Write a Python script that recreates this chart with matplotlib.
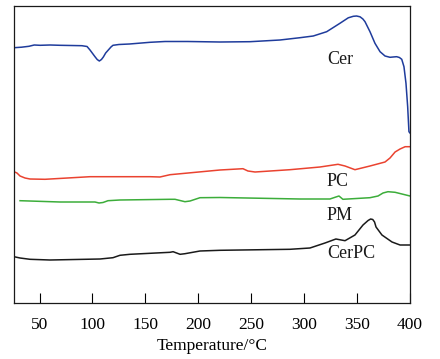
import matplotlib
matplotlib.use("Agg")
import matplotlib.pyplot as plt
import numpy as np

plt.rcParams['font.family'] = ['Liberation Serif', 'DejaVu Serif']
plt.rcParams['mathtext.fontset'] = 'stix'

# Temperature (°C) and heat-flow signal (arbitrary units)
cer_T = [26, 33, 40, 45, 50.5, 60, 69.4, 80, 90, 94.9, 97.7, 100.5, 102.4, 104.5, 106.5, 108.5,
         110.3, 112.5, 115, 117.5, 119.4, 125, 135, 154.4,
         168.6, 190, 220.5, 248.8, 277.2, 296.1, 308.6, 321.3, 333.8, 341.7, 346.4, 349.5, 352.8,
         355.5, 357.5, 362.2, 366.9, 371.7, 376.4, 381.1, 384, 387.4, 390, 392.2, 394.3, 396.2,
         397.8, 399.0, 400]
cer_py = [47.7, 47.2, 46.3, 45, 45.3, 45, 45.3, 45.5, 45.7, 46.5, 50, 54, 56.7, 59.5, 61, 59.5,
          57, 53, 50, 47, 45.3, 44.5, 44, 42.3,
          41.5, 41.5, 42, 41.7, 40, 37.7, 36, 31.7, 23.3, 17.8, 16.3, 16, 16.8,
          19, 21.7, 31.7, 43.3, 51.7, 56, 57.3, 57, 56.7, 57.5, 59.3, 66.7, 83.3,
          106.7, 131.7, 133]

pc_T = [25.9, 28.7, 31.6, 36.3, 41, 55.2, 97.7, 154.4, 163.8, 173.3, 220.5, 242.2, 246.9,
        253.6, 286.6, 315, 332, 338.6, 348, 362.2, 376.4, 381.1, 385.9, 390.6, 395.4, 400]
pc_py = [171.7, 173, 176, 178, 179, 179.3, 176.7, 176.7, 177, 174.7, 170, 168.7, 171,
         172, 169.7, 167, 164.3, 166, 169.7, 166, 162, 158, 152, 149, 146.7, 146.7]

pm_T = [31.6, 69.4, 102.4, 106.2, 110, 114.7, 126, 173.3, 178, 187.4, 192.2, 201.6, 220.5,
        296.1, 324.4, 330, 332.9, 336.6, 362.2, 369.8, 374.5, 379.2, 385.9, 400]
pm_py = [200.7, 202, 202, 203, 202.5, 200.7, 200, 199.3, 199.3, 201.7, 201, 197.7, 197.5,
         199, 199, 197, 196, 199.3, 197.7, 196, 193, 191.7, 192.3, 196]

cerpc_T = [25.9, 31.6, 41, 59.9, 107.2, 119.4, 126, 135.5, 154.4, 173.3, 176.2, 182.8, 187.4,
           201.6, 220.5, 286.6, 305.5, 319.7, 330, 338.6, 348, 355.6, 360.4, 362.8, 364.8, 366.5,
           367.9, 373.5, 383, 390.6, 400]
cerpc_py = [256.7, 258, 259.3, 260, 259, 257.7, 255.3, 254.3, 253.3, 252.3, 251.7, 254.3, 253.7,
            251, 250.3, 249.3, 248, 243, 239, 240.7, 235, 225, 220.5, 219, 219.5, 222,
            227, 235, 242, 245, 245]

xticks = [50, 100, 150, 200, 250, 300, 350, 400]
xlabel = "Temperature/°C"
names = ["Cer", "PC", "PM", "CerPC"]
colors = ["#1f3c9c", "#ea4330", "#3cad3a", "#1a1a1a"]

def sig(py):
    return 303 - np.asarray(py)

fig = plt.figure(figsize=(4.4, 3.59), dpi=100)
ax = fig.add_axes([14/440, 56/359, 396/440, 297/359])

series = [(cer_T, cer_py), (pc_T, pc_py), (pm_T, pm_py), (cerpc_T, cerpc_py)]
for (T, py), c in zip(series, colors):
    ax.plot(T, sig(py), color=c, lw=1.1, solid_joinstyle='round')

label_pos = [(340, 60), (338, 182), (340, 215), (351, 254)]
for name, (px, py) in zip(names, label_pos):
    T = 50 + (px - 39.5) / 1.0586
    ax.text(T, 303 - py, name, ha='center', va='center', fontsize=13, color='#1a1a1a')

ax.set_xlim(25.9, 400)
ax.set_ylim(0, 297)
ax.set_xticks(xticks)
ax.set_yticks([])
ax.tick_params(axis='x', direction='in', length=7, width=0.8, labelsize=12.5, pad=10)
ax.set_xlabel(xlabel, fontsize=12.5, labelpad=4)
for s in ax.spines.values():
    s.set_linewidth(0.9)
    s.set_color('#1a1a1a')

fig.savefig("out.png", dpi=100)
